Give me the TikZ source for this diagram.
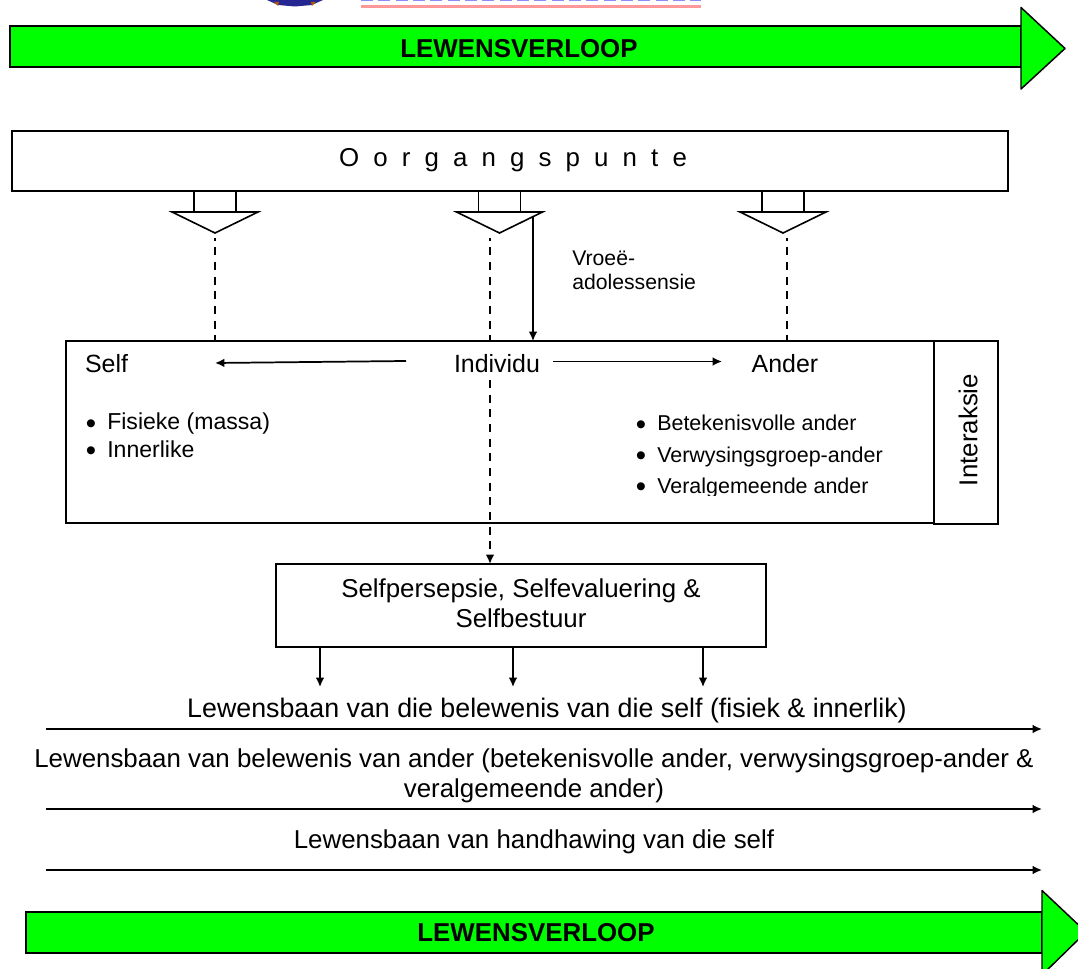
\documentclass[tikz,border=0pt]{standalone}
\usepackage{fontspec}
\setmainfont{Liberation Sans}
\usetikzlibrary{arrows.meta}
\definecolor{lifegreen}{RGB}{0,255,0}
\tikzset{
  box/.style={draw,line width=1.1pt,inner sep=0pt,outer sep=0pt,align=center},
  label/.style={inner sep=0pt,align=center,font=\fontsize{19.4}{22.5}\selectfont},
  head/.style={inner sep=0pt,font=\fontsize{18.7}{22}\selectfont},
  flow/.style={inner sep=0pt,font=\fontsize{19.4}{22}\selectfont\bfseries},
  track/.style={line width=1.3pt,-{Latex[length=7pt,width=6.5pt]}},
  down/.style={line width=1.3pt,-{Latex[length=7pt,width=6.5pt]}},
  link/.style={line width=1pt,dash pattern=on 6pt off 5pt,dash phase=4pt},
  block/.style={draw,line width=1.2pt,fill=white},
  lifebody/.style={draw,fill=lifegreen,line width=1.5pt},
  lifehead/.style={draw,fill=lifegreen,line width=1.1pt,line join=round}
}
\newcommand{\blockarrow}[1]{
  \draw[block] (#1-21,191) rectangle (#1+21,212);
  \draw[block] (#1-43,212) -- (#1+43,212) -- (#1,233) -- cycle;
}
\newcommand{\lst}[1]{\llap{\raisebox{-2.6pt}{\fontsize{22}{22}\selectfont•}\hspace{8.3pt}}#1}
\begin{document}
\begin{tikzpicture}[x=0.75pt,y=-0.75pt]
  \useasboundingbox (0,0) rectangle (1078,969);

  % crest and name strip cut by the top edge
  \fill[blue!50!black!85] (267,0) -- (323,0) -- (312,5) -- (295,6.5) -- (278,5) -- cycle;
  \fill[orange!70!black] (274,2) -- (279,2) -- (278,6) -- cycle (316,2) -- (311,2) -- (312,6) -- cycle;
  \draw[blue!45,line width=1.1pt,dash pattern=on 9pt off 4pt] (361,0.6) -- (701,0.6);
  \fill[red!40] (361,5.5) rectangle (701,8);

  % top arrow
  \draw[lifebody] (10,26.5) rectangle (1021,67.5);
  \draw[lifehead] (1021,7.5) -- (1065,48.5) -- (1021,89) -- cycle;
  \node[flow] (topflow) at (519,49) {LEWENSVERLOOP};

  \node[box,minimum width=996*0.75pt,minimum height=60*0.75pt] (turning) at (510,161) {};
  \node[label] (turntext) at (513,160) {\spaceskip=10.6pt O o r g a n g s p u n t e};

  \blockarrow{215}
  \blockarrow{499.5}
  \blockarrow{783}

  \node[inner sep=0pt,align=left,anchor=west,font=\fontsize{15.9}{18}\selectfont] (early) at (572,270) {Vroeë-\\adolessensie};

  \node[box,minimum width=868*0.75pt,minimum height=182*0.75pt] (whole) at (500,432) {};
  \node[box,minimum width=64*0.75pt,minimum height=183*0.75pt] (interbox) at (966,432.5) {};
  \node[label,rotate=90] (interaction) at (968,430) {Interaksie};

  \node[head] (self) at (106.5,364) {Self};
  \node[head] (individual) at (497,364) {Individu};
  \node[head] (other) at (785,364) {Ander};

  \node[inner sep=0pt,align=left,anchor=north west,font=\fontsize{17.3}{20.5}\selectfont] (selflist) at (107,413) {\lst{Fisieke (massa)}\\\lst{Innerlike}};
  \node[inner sep=0pt,align=left,anchor=north west,font=\fontsize{16.1}{23.4}\selectfont] (otherlist) at (657,415) {\lst{Betekenisvolle ander}\\\lst{Verwysingsgroep-ander}\\\lst{Veralgemeende ander}};
  \fill[white] (655,496.5) rectangle (880,504);

  \coordinate (selfend) at (215,363);
  \coordinate (selfstart) at (406,361);
  \coordinate (otherstart) at (553,361.5);
  \coordinate (otherend) at (722,361.5);
  \draw[down] (selfstart) -- (selfend);
  \draw[down] (otherstart) -- (otherend);

  \coordinate (selflink) at (215,238);
  \coordinate (midlink) at (490,238);
  \coordinate (otherlink) at (787,238);
  \coordinate (earlystart) at (533,217);
  \draw[link] (selflink) -- (selflink |- whole.north);
  \draw[link] (midlink) -- (midlink |- whole.north);
  \draw[link] (otherlink) -- (otherlink |- whole.north);
  \draw[down] (earlystart) -- (earlystart |- whole.north);

  \node[box,minimum width=490*0.75pt,minimum height=83*0.75pt] (perception) at (521,605.5) {};
  \node[label] (perceptext) at (521,603) {Selfpersepsie, Selfevaluering \&\\Selfbestuur};
  \coordinate (selfdown) at (490,380);
  \draw[line width=1.4pt,dash pattern=on 6pt off 5pt,-{Latex[length=7pt,width=6.5pt]}] (selfdown) -- (selfdown |- perception.north);

  \foreach \x in {320,513,703}
    \draw[down] (perception.south -| \x,0) -- (\x,687);

  \node[label,font=\fontsize{20.1}{22.5}\selectfont] (selftrack) at (547,711) {Lewensbaan van die belewenis van die self (fisiek \& innerlik)};
  \node[label] (othertrack) at (534,776) {Lewensbaan van belewenis van ander (betekenisvolle ander, verwysingsgroep-ander \&\\veralgemeende ander)};
  \node[label] (keeptrack) at (534,842) {Lewensbaan van handhawing van die self};
  \foreach \y in {729,809,870} {
    \coordinate (trackstart) at (46,\y);
    \coordinate (trackend) at (1042,\y);
    \draw[track] (trackstart) -- (trackend);
  }

  % bottom arrow
  \draw[lifebody] (25.5,911.5) rectangle (1042,953);
  \draw[lifehead] (1042,890.5) -- (1086,932) -- (1042,975) -- cycle;
  \node[flow] (bottomflow) at (536,933) {LEWENSVERLOOP};
\end{tikzpicture}
\end{document}
